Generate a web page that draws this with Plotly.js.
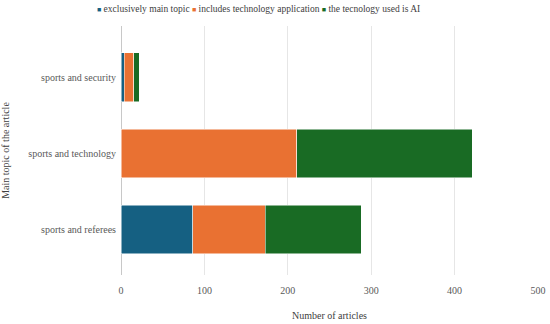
<!DOCTYPE html>
<html><head><meta charset="utf-8">
<script src="https://cdn.plot.ly/plotly-3.0.1.min.js"></script>
<style>html,body{margin:0;padding:0;background:#fff}#c{width:550px;height:324px}</style>
</head><body><div id="c"></div>
<script>
const categories = ["sports and referees", "sports and technology", "sports and security"];
const seriesNames = ["exclusively main topic", "includes technology application", "the tecnology used is AI"];
const exclusivelyMain = [86, 0, 4];
const includesTech = [87, 211, 11];
const usedAI = [115, 210, 7];
const colors = ["#156082", "#E97132", "#196B24"];
const values = [exclusivelyMain, includesTech, usedAI];

const traces = values.map((v, i) => ({
  type: 'bar', orientation: 'h', y: categories, x: v, name: seriesNames[i],
  marker: {color: colors[i], line: {color: '#ffffff', width: 0.5}},
  hoverinfo: 'x+y+name'
}));

const fam = 'Liberation Serif, Times New Roman, serif';
// legend drawn as a text line built from the series names and colours
const legendText = seriesNames.map((n, i) =>
  '<span style="color:' + colors[i] + ';font-size:7px">■</span> ' + n).join(' ');

Plotly.newPlot('c', traces, {
  barmode: 'stack', bargap: 0.36,
  width: 550, height: 324,
  margin: {l: 121, r: 12, t: 26, b: 49},
  paper_bgcolor: '#fff', plot_bgcolor: '#fff',
  font: {family: fam, size: 10, color: '#595959'},
  showlegend: false,
  annotations: [{text: legendText, xref: 'paper', yref: 'paper', x: 0.329, y: 1.068,
                 xanchor: 'center', yanchor: 'middle', showarrow: false,
                 font: {family: fam, size: 9.5, color: '#404040'}}],
  xaxis: {range: [0, 500], dtick: 100, showgrid: true, gridcolor: '#e6e6e6', gridwidth: 1,
          zeroline: true, zerolinecolor: '#c8c8c8', zerolinewidth: 1, showline: false, ticks: '',
          tickfont: {family: fam, size: 10, color: '#595959'}, ticklabelstandoff: 8, automargin: false,
          title: {text: 'Number of articles', font: {family: fam, size: 10, color: '#404040'}, standoff: 16}},
  yaxis: {range: [-0.6, 2.675], showgrid: false, zeroline: false, showline: false, ticks: '',
          tickfont: {family: fam, size: 10, color: '#595959'}, ticklabelstandoff: 4, automargin: false,
          title: {text: 'Main topic of the article', font: {family: fam, size: 10, color: '#404040'}, standoff: 18}}
}, {displayModeBar: false, staticPlot: true});
</script></body></html>
